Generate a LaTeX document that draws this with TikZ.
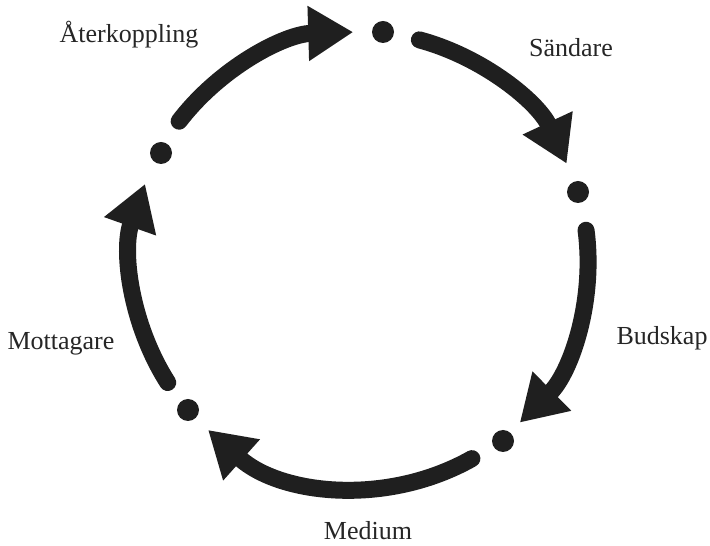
\documentclass[tikz,border=0pt]{standalone}
\usepackage{fontspec}
\setmainfont{Liberation Serif}
\usetikzlibrary{arrows.meta,calc}

\begin{document}
\begin{tikzpicture}[x=1pt,y=1pt,
  dot/.style={circle,fill=black!88,inner sep=0pt,minimum size=22pt},
  flow/.style={line width=17pt,draw=black!88,line cap=round,
    -{Triangle[length=45pt,width=52pt]}},
  lbl/.style={anchor=base,inner sep=0pt,text=black!85,
    font=\fontsize{26}{30}\selectfont}]
  \useasboundingbox (0,0) rectangle (710,546);
  \fill[white] (0,0) rectangle (710,546);

  % centre of the ring and its radius
  \coordinate (C) at (360,286);
  \def\R{228}

  % the five stations on the ring
  \node[dot] (top)   at (383,514) {};
  \node[dot] (right) at (578,354) {};
  \node[dot] (lowr)  at (503,105) {};
  \node[dot] (lowl)  at (188,136) {};
  \node[dot] (left)  at (161,393) {};

  % tails of the arcs
  \coordinate (t1) at ($(C)+(142.5:\R)$);
  \coordinate (t2) at ($(C)+(74.9:\R)$);
  \coordinate (t3) at ($(C)+(7.5:\R)$);
  \coordinate (t4) at ($(C)+(-60.6:\R)$);
  \coordinate (t5) at ($(C)+(212.5:\R)$);

  % arcs running clockwise round the ring
  \draw[flow] (t1) arc[start angle=142.5, end angle=91.7, radius=\R];
  \draw[flow] (t2) arc[start angle=74.9,  end angle=25,   radius=\R];
  \draw[flow] (t3) arc[start angle=7.5,   end angle=-45.5, radius=\R];
  \draw[flow] (t4) arc[start angle=-60.6, end angle=-131.8, radius=\R];
  \draw[flow] (t5) arc[start angle=212.5, end angle=160.5, radius=\R];

  % labels
  \node[lbl] (l1) at (129,503) {Återkoppling};
  \node[lbl] (l2) at (571,489) {Sändare};
  \node[lbl] (l3) at (662,201) {Budskap};
  \node[lbl] (l4) at (368,6)   {Medium};
  \node[lbl] (l5) at (61,196)  {Mottagare};
\end{tikzpicture}
\end{document}
